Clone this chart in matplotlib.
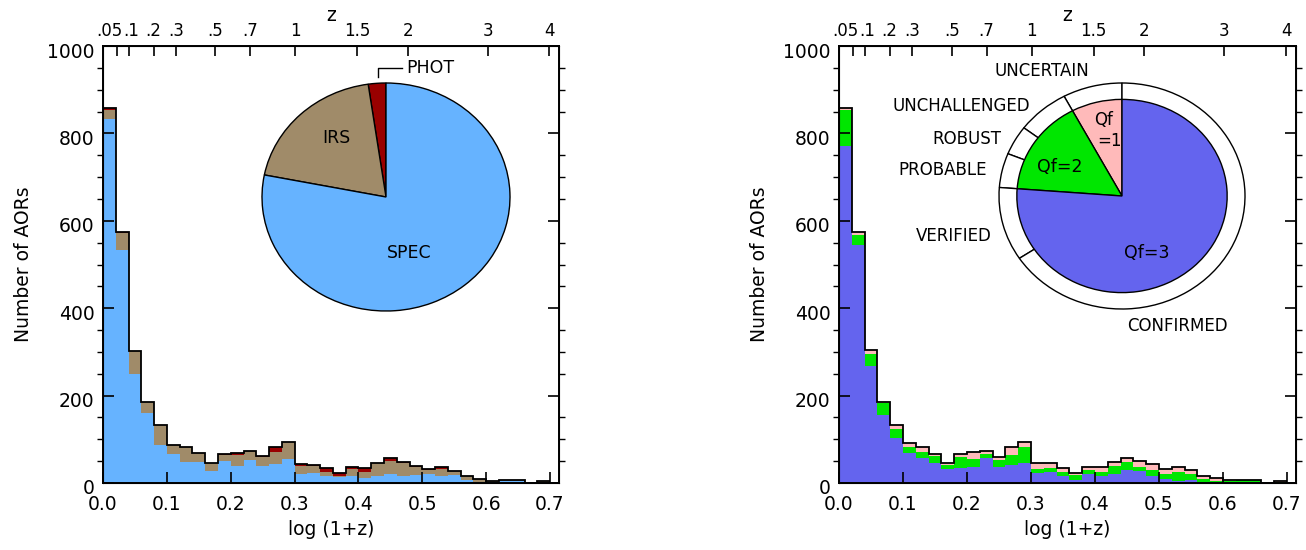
import numpy as np
import matplotlib
matplotlib.use("Agg")
import matplotlib.pyplot as plt
import matplotlib.transforms as mtransforms
from matplotlib.ticker import MultipleLocator

plt.rcParams['font.family'] = ['DejaVu Sans']

# bins in log(1+z), width 0.02
edges = np.arange(0.0, 0.7001, 0.02)

# left panel: counts per bin by origin of the redshift
spec = [832, 533, 249, 161, 87, 66, 49, 49, 28, 50, 40, 53, 40, 44, 55, 21, 24, 16,
        14, 16, 11, 16, 21, 17, 18, 21, 16, 18, 8, 3, 1.5, 4.6, 4, 0, 0]
irs = [22, 39, 52, 25, 46, 22, 34, 19, 18, 14, 23, 20, 19, 28, 38, 18, 16, 10,
       2, 16, 15, 29, 30, 29, 19, 9, 17, 9, 8, 7, 3, 3, 2, 0, 4]
phot = [3, 3, 2, 0, 0, 0, 0, 0, 0, 2, 5, 0, 2, 11, 0, 4, 2, 8,
        6, 5, 9, 0, 6, 3, 3, 1, 4, 1, 0, 0, 1, 0, 0, 0, 0]

# right panel: counts per bin by quality flag
qf3 = [772, 545, 268, 156, 104, 68, 58, 46, 32, 35, 36, 58, 36, 41, 45, 22, 26, 16,
       7, 21, 16, 21, 30, 27, 16, 9, 5, 7, 3, 1.5, 0, 0, 0, 0, 0]
qf2 = [82, 23, 27, 26, 19, 15, 14, 15, 9, 24, 20, 8, 17, 23, 38, 10, 9, 10,
       11, 8, 10, 19, 19, 10, 14, 11, 21, 14, 6, 3, 5, 6, 6, 0, 2]
qf1 = [3, 7, 9, 4, 10, 8, 11, 6, 5, 7, 14, 7, 7, 19, 10, 13, 10, 8,
       4, 8, 10, 8, 8, 14, 13, 11, 11, 8, 8, 6, 1, 2, 0, 0, 2]

# pie fractions (percent), counter-clockwise from 12 o'clock
pie_left_labels = ['PHOT', 'IRS', 'SPEC']
pie_left = [2.3, 19.6, 78.1]
pie_inner_labels = ['Qf=1', 'Qf=2', 'Qf=3']
pie_inner = [7.8, 16.0, 76.2]
ring_labels = ['UNCERTAIN', 'UNCHALLENGED', 'ROBUST', 'PROBABLE', 'VERIFIED', 'CONFIRMED']
ring = [7.8, 6.9, 4.2, 4.9, 10.5, 65.7]

z_ticks = [0.05, 0.1, 0.2, 0.3, 0.5, 0.7, 1, 1.5, 2, 3, 4]
z_labels = ['.05', '.1', '.2', '.3', '.5', '.7', '1', '1.5', '2', '3', '4']

c_spec, c_irs, c_phot = '#66b3ff', '#a08b69', '#990000'
c_q3, c_q2, c_q1 = '#6464ee', '#00e600', '#ffbaba'

W, H = 1306, 550
fig = plt.figure(figsize=(W / 100, H / 100), dpi=100)
FS = 13.5


def pix_axes(x0, y0, x1, y1):
    return fig.add_axes([x0 / W, 1 - y1 / H, (x1 - x0) / W, (y1 - y0) / H])


def hist_panel(x0, x1, layers, colors):
    ax = pix_axes(x0, 46, x1, 483)
    bottom = np.zeros(len(edges) - 1)
    for vals, col in zip(layers, colors):
        vals = np.array(vals, dtype=float)
        ax.bar(edges[:-1], vals, width=0.02, bottom=bottom, align='edge',
               color=col, linewidth=0)
        bottom = bottom + vals
    ax.stairs(bottom, edges, color='black', linewidth=1.3, baseline=None)
    ax.set_xlim(0, 0.714)
    ax.set_ylim(0, 1000)
    ax.xaxis.set_major_locator(MultipleLocator(0.1))
    ax.yaxis.set_major_locator(MultipleLocator(200))
    ax.yaxis.set_minor_locator(MultipleLocator(50))
    ax.tick_params(direction='in', labelsize=FS, width=1.2)
    ax.tick_params(axis='x', which='major', length=8, pad=9, top=False)
    ax.tick_params(axis='y', which='major', length=8, pad=6, right=True)
    ax.tick_params(axis='y', which='minor', length=4, width=1.0, right=True)
    shift_down = mtransforms.ScaledTranslation(0, -4 / 100, fig.dpi_scale_trans)
    for lab in ax.get_yticklabels():
        lab.set_transform(lab.get_transform() + shift_down)
    for s in ax.spines.values():
        s.set_linewidth(1.4)
    ax.set_xlabel('log (1+z)', fontsize=FS, labelpad=4)
    ax.set_ylabel('Number of AORs', fontsize=FS, labelpad=10)

    top = ax.twiny()
    top.set_xlim(ax.get_xlim())
    top.set_xticks(np.log10(1 + np.array(z_ticks)))
    top.set_xticklabels(z_labels)
    top.tick_params(direction='in', length=7, width=1.2, labelsize=12, pad=4)
    labs = top.get_xticklabels()
    labs[0].set_transform(labs[0].get_transform() +
                          mtransforms.ScaledTranslation(-7 / 100, 0, fig.dpi_scale_trans))
    labs[1].set_transform(labs[1].get_transform() +
                          mtransforms.ScaledTranslation(2 / 100, 0, fig.dpi_scale_trans))
    top.set_xlabel('z', fontsize=FS, labelpad=1)
    return ax


hist_panel(103, 559, [spec, irs, phot], [c_spec, c_irs, c_phot])
hist_panel(839, 1296, [qf3, qf2, qf1], [c_q3, c_q2, c_q1])


def pie_axes(cx, cy, rx, ry, m=1.08):
    pa = pix_axes(cx - rx * m, cy - ry * m, cx + rx * m, cy + ry * m)
    return pa


# left pie
pa = pie_axes(386, 197, 124, 114)
pa.pie(pie_left, colors=[c_phot, c_irs, c_spec], startangle=90, counterclock=True,
       wedgeprops=dict(edgecolor='black', linewidth=1.0))
pa.set_aspect('auto')
pa.set_xlim(-1.08, 1.08)
pa.set_ylim(-1.08, 1.08)
pa.text(-0.40, 0.52, 'IRS', fontsize=12.5, ha='center', va='center')
pa.text(0.19, -0.49, 'SPEC', fontsize=12.5, ha='center', va='center')
pa.plot([-0.065, -0.065, 0.13], [1.05, 1.13, 1.13], color='black', linewidth=1.0,
        clip_on=False)
pa.text(0.16, 1.13, 'PHOT', fontsize=12.5, ha='left', va='center')

# right pie with outer ring
pb = pie_axes(1122, 196, 123, 113)
pb.pie(ring, colors=['white'] * len(ring), startangle=90, counterclock=True,
       wedgeprops=dict(edgecolor='black', linewidth=1.0))
pb.pie(pie_inner, colors=[c_q1, c_q2, c_q3], startangle=90, counterclock=True,
       radius=0.855, wedgeprops=dict(edgecolor='black', linewidth=1.0))
pb.set_aspect('auto')
pb.set_xlim(-1.08, 1.08)
pb.set_ylim(-1.08, 1.08)
ring_pos = [(-0.65, 1.11), (-1.31, 0.80), (-1.26, 0.50),
            (-1.46, 0.23), (-1.37, -0.35), (0.45, -1.15)]
for lab, (x, y) in zip(ring_labels, ring_pos):
    pb.text(x, y, lab, fontsize=12, ha='center', va='center')
pb.text(-0.15, 0.67, 'Qf', fontsize=12, ha='center', va='center')
pb.text(-0.10, 0.49, '=1', fontsize=12, ha='center', va='center')
pb.text(-0.51, 0.26, 'Qf=2', fontsize=12.5, ha='center', va='center')
pb.text(0.20, -0.50, 'Qf=3', fontsize=12.5, ha='center', va='center')

fig.savefig('out.png', dpi=100)
